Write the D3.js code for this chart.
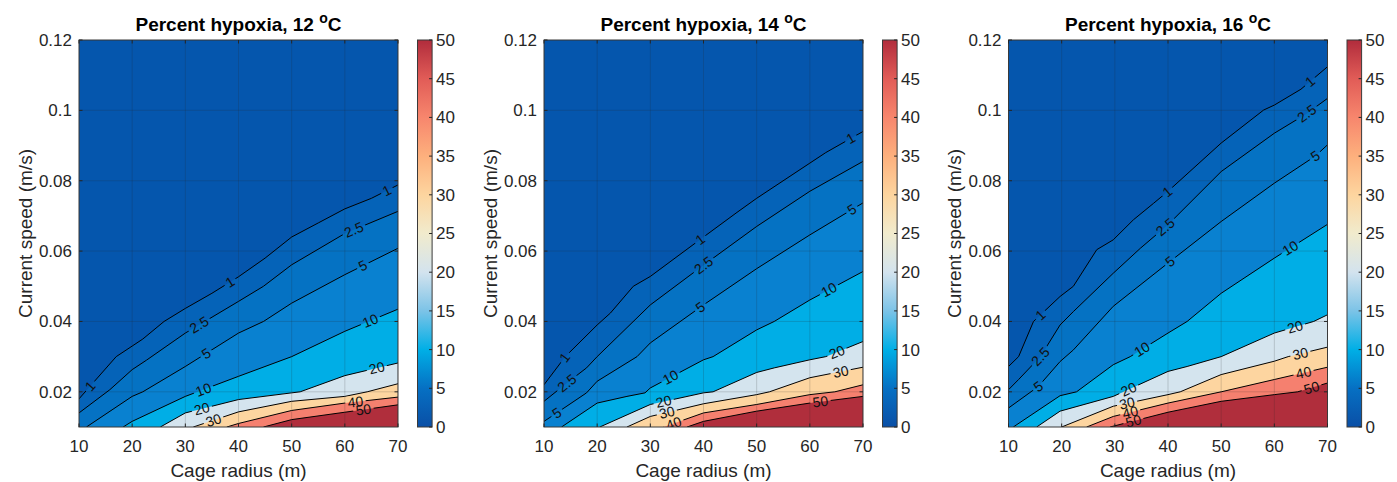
<!DOCTYPE html>
<html>
<head>
<meta charset="utf-8">
<title>Percent hypoxia</title>
<style>
  body { margin: 0; background: #fff; }
  text { font-family: "Liberation Sans", Arial, Helvetica, sans-serif; fill: #262626; }
</style>
</head>
<body>
<svg id="chart"></svg>
<script src="https://cdnjs.cloudflare.com/ajax/libs/d3/7.8.5/d3.min.js"></script>
<script>
// ---- data ----
var temps = [12, 14, 16];
var levels = [1, 2.5, 5, 10, 20, 30, 40, 50];
var xTicks = [10, 20, 30, 40, 50, 60, 70];
var yTicks = [0.02, 0.04, 0.06, 0.08, 0.1, 0.12];
var cbTicks = [0, 5, 10, 15, 20, 25, 30, 35, 40, 45, 50];

// contour lines: one list per level, points are [cage radius, current speed]
var lines12 = [
  [[10, 0.018], [17, 0.030], [20, 0.033], [22, 0.035], [26, 0.040], [30, 0.0437], [35, 0.048], [40, 0.0527], [45, 0.058], [50, 0.064], [55, 0.068], [60, 0.072], [65, 0.075], [70, 0.0788]],
  [[10, 0.014], [15.8, 0.0206], [20, 0.0263], [22.7, 0.029], [30, 0.0367], [40, 0.0457], [44.7, 0.050], [50, 0.0561], [60, 0.065], [70, 0.0713]],
  [[11.4, 0.01], [20, 0.0187], [22, 0.020], [30, 0.0272], [40, 0.0367], [44.7, 0.040], [50, 0.0452], [60, 0.0533], [70, 0.0608]],
  [[18.3, 0.01], [20, 0.0116], [30, 0.0187], [40, 0.0244], [50, 0.030], [60, 0.0372], [70, 0.0435]],
  [[25.3, 0.01], [30, 0.014], [40, 0.0178], [50, 0.0197], [51.6, 0.020], [60, 0.0246], [70, 0.0282]],
  [[31.5, 0.01], [40, 0.0143], [50, 0.0173], [60, 0.0187], [64.2, 0.020], [70, 0.0223]],
  [[37.8, 0.01], [40, 0.011], [50, 0.0147], [60, 0.0168], [70, 0.0185]],
  [[44.7, 0.01], [50, 0.0121], [60, 0.0142], [70, 0.0163]]
];
var lines14 = [
  [[10, 0.022], [14, 0.030], [20, 0.039], [22.5, 0.0424], [26.8, 0.050], [30, 0.0528], [40, 0.064], [46.3, 0.071], [50, 0.075], [60, 0.085], [63, 0.088], [70, 0.094]],
  [[10, 0.0173], [14.3, 0.0225], [18, 0.0268], [20, 0.030], [30, 0.0447], [40, 0.056], [50, 0.067], [60, 0.077], [70, 0.0855]],
  [[10, 0.0116], [12.4, 0.014], [18, 0.0197], [20, 0.023], [27.5, 0.030], [30, 0.0339], [40, 0.0447], [50, 0.055], [60, 0.0646], [70, 0.0737]],
  [[13.3, 0.01], [20, 0.0168], [25.6, 0.0187], [29, 0.0197], [30, 0.0211], [40, 0.0291], [41.8, 0.030], [50, 0.0376], [53.3, 0.040], [60, 0.0461], [70, 0.0542]],
  [[20.5, 0.01], [30, 0.0164], [40, 0.0197], [41.8, 0.020], [50, 0.0255], [53.3, 0.0268], [60, 0.0291], [63, 0.030], [70, 0.0343]],
  [[25.6, 0.01], [30, 0.013], [40, 0.0166], [50, 0.0192], [52.4, 0.020], [60, 0.024], [70, 0.027]],
  [[32.5, 0.01], [40, 0.014], [50, 0.0164], [60, 0.0192], [64.7, 0.020], [70, 0.022]],
  [[36.9, 0.01], [40, 0.0116], [50, 0.0145], [60, 0.0168], [70, 0.0187]]
];
var lines16 = [
  [[10, 0.0272], [11.9, 0.030], [14.7, 0.040], [19.7, 0.0471], [22.2, 0.050], [26.6, 0.0604], [29.7, 0.0632], [33.5, 0.0689], [37.3, 0.0736], [40, 0.077], [50, 0.0907], [58, 0.1001], [60, 0.1015], [65, 0.106], [70, 0.1124]],
  [[10, 0.0206], [11.9, 0.0235], [16, 0.030], [19.7, 0.039], [22.2, 0.0428], [29.7, 0.0537], [34.8, 0.0608], [40, 0.0675], [50, 0.0826], [60, 0.0935], [66, 0.099], [70, 0.1034]],
  [[10, 0.0154], [15.6, 0.0215], [19.7, 0.0286], [22.2, 0.0319], [29.7, 0.0443], [40, 0.0566], [50, 0.0684], [60, 0.0793], [67.7, 0.087], [70, 0.0902]],
  [[10.9, 0.01], [19.7, 0.0189], [22.8, 0.020], [29.7, 0.0277], [32.9, 0.030], [40, 0.0367], [43.6, 0.040], [50, 0.048], [60, 0.058], [70, 0.0676]],
  [[15.3, 0.01], [19.7, 0.0145], [29.7, 0.0187], [40, 0.0258], [43.6, 0.0272], [50, 0.030], [60, 0.0367], [67.4, 0.040], [70, 0.0419]],
  [[20, 0.01], [29.7, 0.0159], [40, 0.0192], [42.3, 0.020], [50, 0.0249], [60, 0.0287], [62.6, 0.030], [70, 0.0327]],
  [[24.7, 0.01], [29.7, 0.013], [40, 0.0168], [50, 0.020], [60, 0.0235], [70, 0.027]],
  [[29.1, 0.01], [40, 0.0142], [50, 0.0173], [60, 0.0192], [64.4, 0.020], [70, 0.0225]]
];
// where the level labels sit along each line (cage radius)
var labels12 = [[12.1, 38.4, 67.9], [32.6, 61.7], [33.9, 63.4], [33.4, 64.8], [33.1, 66], [35.3], [62], [63.5]];
var labels14 = [[13.9, 39.4, 67.7], [14.3, 40], [12.4, 39.4, 67.9], [33.8, 63.6], [32.5, 65.1], [33.1, 65.8], [34.4], [62]];
var labels16 = [[16, 39.9, 66.7], [16, 39.5, 66.1], [15.6, 40.4, 67.7], [35.1, 63], [32.6, 63.9], [32.3, 64.9], [32.9, 65.5], [33.5, 67]];

var panelLines = [lines12, lines14, lines16];
var panelLabels = [labels12, labels14, labels16];

// fill colour of each band: below 1, 1-2.5, ..., above 50
var bandColors = ['#0556ad', '#0563b8', '#0572c3', '#0981d0', '#00aee6', '#d4e4ee', '#fdd5a0', '#f5806f', '#b02e3c'];
var cbStops = ['#0a4fa6', '#0670c3', '#00afe6', '#7cc3e7', '#d3e3ee', '#f1ebcd', '#fdd59f', '#fdb07d', '#f7866d', '#e15c57', '#b12c3c'];

// ---- layout ----
var width = 1397, height = 482;
var plotLefts = [79, 544, 1008.5];
var plotW = 319, plotTop = 40, plotBottom = 427;

var svg = d3.select('#chart').attr('width', width).attr('height', height);
var defs = svg.append('defs');

var grad = defs.append('linearGradient').attr('id', 'cbgrad')
  .attr('x1', 0).attr('y1', 1).attr('x2', 0).attr('y2', 0);
grad.selectAll('stop').data(cbStops).enter().append('stop')
  .attr('offset', function(d, i) { return i / (cbStops.length - 1); })
  .attr('stop-color', function(d) { return d; });

function locate(pts, xv) {
  for (var i = 0; i < pts.length - 1; i++) {
    var a = pts[i], b = pts[i + 1];
    if (xv >= a[0] && xv <= b[0]) {
      var t = (xv - a[0]) / (b[0] - a[0]);
      return {
        x: a[0] + t * (b[0] - a[0]),
        y: a[1] + t * (b[1] - a[1]),
        ang: Math.atan2(b[1] - a[1], b[0] - a[0]) * 180 / Math.PI
      };
    }
  }
  return null;
}

temps.forEach(function(temp, p) {
  var left = plotLefts[p];
  var x = d3.scaleLinear().domain([10, 70]).range([left, left + plotW]);
  var y = d3.scaleLinear().domain([0.01, 0.12]).range([plotBottom, plotTop]);
  var lines = panelLines[p];
  var labs = panelLabels[p];
  var plotH = plotBottom - plotTop;

  defs.append('clipPath').attr('id', 'clip' + p)
    .append('rect').attr('x', left).attr('y', plotTop).attr('width', plotW).attr('height', plotH);

  var g = svg.append('g');
  var plot = g.append('g').attr('clip-path', 'url(#clip' + p + ')');

  // bands
  plot.append('rect').attr('x', left).attr('y', plotTop).attr('width', plotW).attr('height', plotH)
    .attr('fill', bandColors[0]);
  var area = d3.area()
    .x(function(d) { return x(d[0]); })
    .y0(y(0.01))
    .y1(function(d) { return y(d[1]); });
  lines.forEach(function(pts, i) {
    plot.append('path').attr('d', area(pts)).attr('fill', bandColors[i + 1]);
  });

  // grid
  plot.selectAll('.gx').data(xTicks).enter().append('line')
    .attr('x1', function(d) { return x(d); }).attr('x2', function(d) { return x(d); })
    .attr('y1', plotTop).attr('y2', plotBottom)
    .attr('stroke', 'rgba(38,38,38,0.18)').attr('stroke-width', 1);
  plot.selectAll('.gy').data(yTicks).enter().append('line')
    .attr('y1', function(d) { return y(d); }).attr('y2', function(d) { return y(d); })
    .attr('x1', left).attr('x2', left + plotW)
    .attr('stroke', 'rgba(38,38,38,0.18)').attr('stroke-width', 1);

  // contour lines, with gaps cut by a mask where the labels sit
  var mask = defs.append('mask').attr('id', 'mask' + p).attr('maskUnits', 'userSpaceOnUse')
    .attr('x', 0).attr('y', 0).attr('width', width).attr('height', height);
  mask.append('rect').attr('x', 0).attr('y', 0).attr('width', width).attr('height', height).attr('fill', '#fff');

  var lineG = plot.append('g').attr('mask', 'url(#mask' + p + ')');
  var labelG = plot.append('g');
  var line = d3.line().x(function(d) { return x(d[0]); }).y(function(d) { return y(d[1]); });

  lines.forEach(function(pts, i) {
    lineG.append('path').attr('d', line(pts))
      .attr('fill', 'none').attr('stroke', '#000').attr('stroke-width', 1);
    var px = pts.map(function(d) { return [x(d[0]), y(d[1])]; });
    labs[i].forEach(function(lx) {
      var loc = locate(px, x(lx));
      if (!loc) return;
      var tf = 'translate(' + loc.x + ',' + loc.y + ') rotate(' + loc.ang + ')';
      var txt = labelG.append('text')
        .attr('transform', tf)
        .attr('text-anchor', 'middle').attr('dy', '0.35em')
        .style('font-size', '14px').style('fill', '#111')
        .text(levels[i]);
      var w = txt.node().getComputedTextLength() + 5;
      mask.append('rect')
        .attr('transform', tf)
        .attr('x', -w / 2).attr('y', -6).attr('width', w).attr('height', 12)
        .attr('fill', '#000');
    });
  });

  // box and ticks
  g.append('rect').attr('x', left).attr('y', plotTop).attr('width', plotW).attr('height', plotH)
    .attr('fill', 'none').attr('stroke', '#3a3a3a').attr('stroke-width', 1);
  var tl = 3.5;
  xTicks.forEach(function(d) {
    g.append('line').attr('x1', x(d)).attr('x2', x(d)).attr('y1', plotBottom).attr('y2', plotBottom - tl).attr('stroke', '#262626');
    g.append('line').attr('x1', x(d)).attr('x2', x(d)).attr('y1', plotTop).attr('y2', plotTop + tl).attr('stroke', '#262626');
  });
  yTicks.forEach(function(d) {
    g.append('line').attr('y1', y(d)).attr('y2', y(d)).attr('x1', left).attr('x2', left + tl).attr('stroke', '#262626');
    g.append('line').attr('y1', y(d)).attr('y2', y(d)).attr('x1', left + plotW).attr('x2', left + plotW - tl).attr('stroke', '#262626');
  });

  g.selectAll('.xl').data(xTicks).enter().append('text')
    .attr('x', function(d) { return x(d); }).attr('y', 452)
    .attr('text-anchor', 'middle').style('font-size', '17px')
    .text(function(d) { return d; });
  g.selectAll('.yl').data(yTicks).enter().append('text')
    .attr('x', left - 7).attr('y', function(d) { return y(d); })
    .attr('dy', '0.35em').attr('text-anchor', 'end').style('font-size', '17px')
    .text(function(d) { return d; });

  g.append('text').attr('x', left + plotW / 2).attr('y', 477)
    .attr('text-anchor', 'middle').style('font-size', '19px').text('Cage radius (m)');
  g.append('text')
    .attr('transform', 'translate(' + (left - 47.5) + ',' + ((plotTop + plotBottom) / 2) + ') rotate(-90)')
    .attr('text-anchor', 'middle').style('font-size', '19px').text('Current speed (m/s)');

  var title = g.append('text').attr('x', left + plotW / 2).attr('y', 31)
    .attr('text-anchor', 'middle').style('font-size', '19px').style('font-weight', 'bold')
    .style('fill', '#000');
  title.append('tspan').text('Percent hypoxia, ' + temp + ' ');
  title.append('tspan').attr('dy', -8).style('font-size', '14px').text('o');
  title.append('tspan').attr('dy', 8).text('C');

  // colorbar
  var cbX = left + plotW + 19.5, cbW = 14.6;
  var cy = d3.scaleLinear().domain([0, 50]).range([plotBottom, plotTop]);
  g.append('rect').attr('x', cbX).attr('y', plotTop).attr('width', cbW).attr('height', plotH)
    .attr('fill', 'url(#cbgrad)').attr('stroke', '#3a3a3a').attr('stroke-width', 1);
  cbTicks.forEach(function(d) {
    g.append('line').attr('x1', cbX + cbW).attr('x2', cbX + cbW - 3).attr('y1', cy(d)).attr('y2', cy(d)).attr('stroke', '#262626');
  });
  g.selectAll('.cl').data(cbTicks).enter().append('text')
    .attr('x', cbX + cbW + 4).attr('y', function(d) { return cy(d); })
    .attr('dy', '0.35em').style('font-size', '17px')
    .text(function(d) { return d; });
});
</script>
</body>
</html>
